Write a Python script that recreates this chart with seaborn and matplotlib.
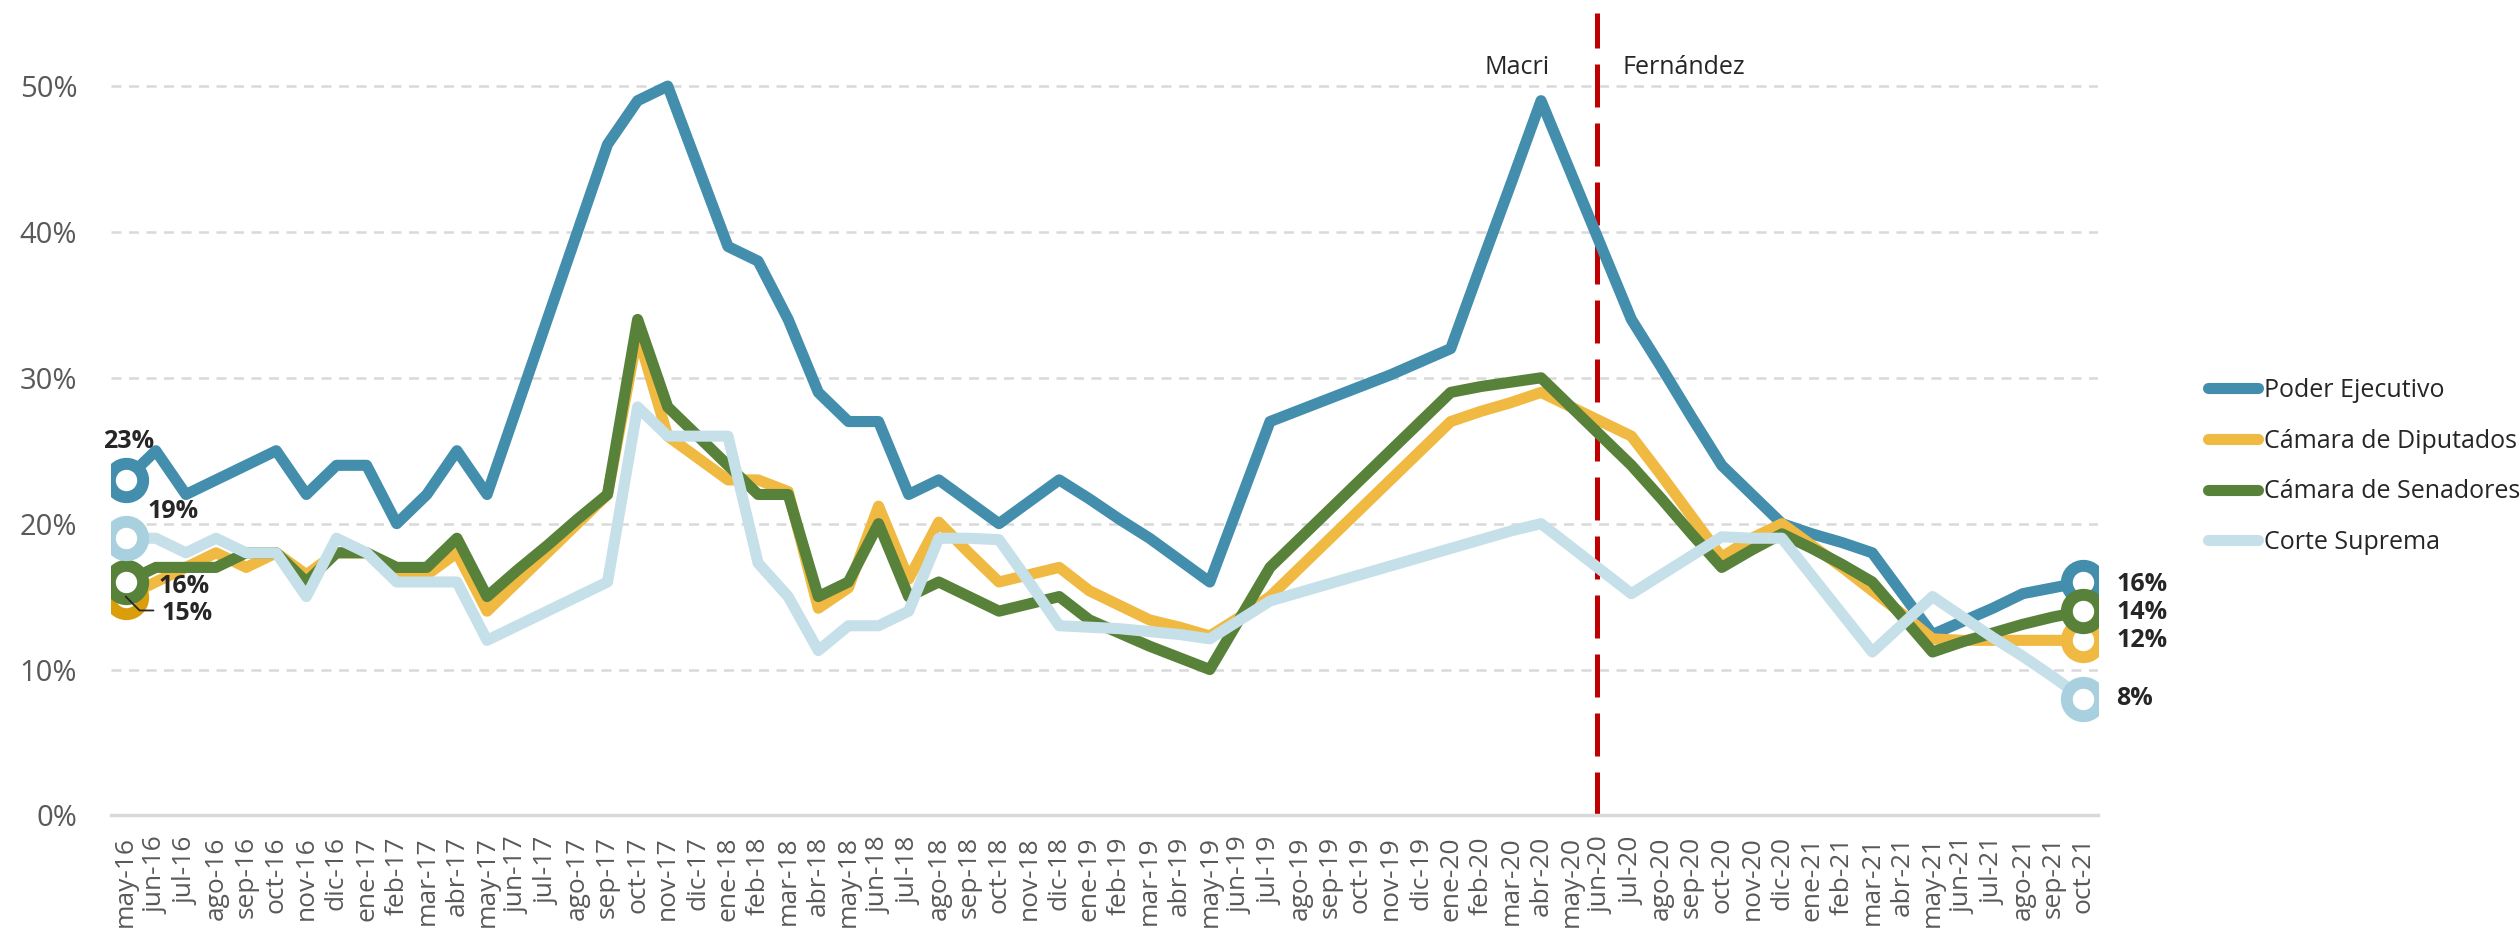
import numpy as np
import pandas as pd
import matplotlib
matplotlib.use('Agg')

import matplotlib.pyplot as plt
from matplotlib.lines import Line2D
import seaborn as sns

# -------------------------
# Data
# -------------------------

meses_abr = ['ene', 'feb', 'mar', 'abr', 'may', 'jun',
             'jul', 'ago', 'sep', 'oct', 'nov', 'dic']
meses = [f"{m}-{a}" for a in range(16, 22) for m in meses_abr]
meses = meses[meses.index('may-16'):meses.index('oct-21') + 1]

poder_ejecutivo = [23, 25, 22, 23, 24, 25, 22, 24, 24, 20, 22, 25, 22, 28, 34, 40,
                   46, 49, 50, 44.5, 39, 38, 34, 29, 27, 27, 22, 23, 21.5, 20, 21.5, 23,
                   21.7, 20.3, 19, 17.5, 16, 21.5, 27, 27.8, 28.6, 29.4, 30.2, 31.1, 32, 37.7,
                   43.3, 49, 44, 39, 34, 30.7, 27.3, 24, 22, 20, 19.3, 18.7, 18, 15.2, 12.4, 13.3,
                   14.2, 15.2, 15.6, 16]

camara_diputados = [15, 16, 17, 18, 17, 18, 16.5, 18, 18, 16.5, 16.5, 18, 14, 16, 18, 20,
                    22, 33, 26, 24.5, 23, 23, 22.2, 14.2, 15.6, 21.2, 16.2, 20.1, 18, 16, 16.5, 17,
                    15.4, 14.4, 13.4, 12.9, 12.3, 13.6, 15, 17, 19, 21, 23, 25, 27, 27.7,
                    28.3, 29, 28, 27, 26, 23.3, 20.5, 17.7, 19, 20, 18.5, 17, 15.4, 13.8, 12.1, 12,
                    12, 12, 12, 12]

camara_senadores = [16, 17, 17, 17, 18, 18, 16, 18, 18, 17, 17, 19, 15, 16.8, 18.5, 20.3,
                    22, 34, 28, 26, 24, 22, 22, 15, 16, 20, 15, 16, 15, 14, 14.5, 15,
                    13.4, 12.5, 11.6, 10.8, 10, 13.5, 17, 19, 21, 23, 25, 27, 29, 29.4,
                    29.7, 30, 28, 26, 24, 21.7, 19.3, 17, 18.2, 19.3, 18.3, 17.2, 16, 13.6, 11.2, 11.9,
                    12.5, 13.1, 13.6, 14]

corte_suprema = [19, 19, 18, 19, 18, 18, 15, 19, 18, 16, 16, 16, 12, 13, 14, 15,
                 16, 28, 26, 26, 26, 17.3, 15, 11.3, 13, 13, 14, 19, 19, 18.9, 16, 13,
                 12.9, 12.8, 12.6, 12.4, 12.1, 13.4, 14.7, 15.3, 15.9, 16.5, 17.1, 17.7, 18.3, 18.9,
                 19.5, 20, 18.4, 16.8, 15.2, 16.5, 17.8, 19.1, 19, 19, 16.4, 13.8, 11.2, 13.1, 15, 13.6,
                 12.2, 10.9, 9.5, 8]

series = ['Poder Ejecutivo', 'Cámara de Diputados', 'Cámara de Senadores', 'Corte Suprema']
valores = [poder_ejecutivo, camara_diputados, camara_senadores, corte_suprema]

colores = {'Poder Ejecutivo': '#428EAC',
           'Cámara de Diputados': '#F0BA42',
           'Cámara de Senadores': '#58813A',
           'Corte Suprema': '#C5E0E8'}
borde_inicio = {'Poder Ejecutivo': '#428EAC',
                'Cámara de Diputados': '#DA9E0C',
                'Cámara de Senadores': '#58813A',
                'Corte Suprema': '#A9D0DF'}
borde_fin = {'Poder Ejecutivo': '#428EAC',
             'Cámara de Diputados': '#F0BA42',
             'Cámara de Senadores': '#58813A',
             'Corte Suprema': '#A9D0DF'}

idx = np.arange(len(meses))
df = pd.DataFrame({
    'idx': np.tile(idx, len(series)),
    'valor': np.concatenate(valores),
    'serie': np.repeat(series, len(meses)),
})

# -------------------------
# Plot
# -------------------------

sns.set_style('white')
plt.rcParams['font.family'] = ['Open Sans', 'DejaVu Sans']

fig = plt.figure(figsize=(25.2, 9.4), dpi=100)
ax = fig.add_axes([0.0439, 0.1326, 0.8886 - 0.0439 - 0.056, 0.986 - 0.1326])

sns.lineplot(data=df, x='idx', y='valor', hue='serie', hue_order=series,
             palette=colores, linewidth=8, sort=False, legend=False, ax=ax)
for ln in ax.lines:
    ln.set_solid_joinstyle('round')
    ln.set_solid_capstyle('round')

# open circle markers at start and end
for s, v in zip(series, valores):
    ax.plot(idx[0], v[0], 'o', ms=24, mew=8.6, mfc='white',
            mec=borde_inicio[s], zorder=5)
for s, v in zip(series, valores):
    ax.plot(idx[-1], v[-1], 'o', ms=24, mew=8.6, mfc='white',
            mec=borde_fin[s], zorder=5)

# labels at the start
lab_kw = dict(textcoords='offset points', fontsize=18, fontweight='bold',
              color='#262626', va='center', zorder=6)
ax.annotate(f"{poder_ejecutivo[0]:.0f}%", (idx[0], poder_ejecutivo[0]),
            xytext=(2, 28), ha='center', **lab_kw)
ax.annotate(f"{corte_suprema[0]:.0f}%", (idx[0], corte_suprema[0]),
            xytext=(34, 19), ha='center', **lab_kw)
ax.annotate(f"{camara_senadores[0]:.0f}%", (idx[0], camara_senadores[0]),
            xytext=(42, -3), ha='center', **lab_kw)
ax.annotate(f"{camara_diputados[0]:.0f}%", (idx[0], camara_diputados[0]),
            xytext=(44, -12), ha='center', **lab_kw)
ax.annotate('', (idx[0], camara_diputados[0]), xytext=(20, -10),
            textcoords='offset points',
            arrowprops=dict(arrowstyle='-', color='#262626', lw=1.3,
                            connectionstyle='angle,angleA=0,angleB=-45,rad=0',
                            shrinkA=0, shrinkB=0), zorder=6)

# labels at the end
for v, dy in zip([poder_ejecutivo, camara_senadores, camara_diputados, corte_suprema],
                 [-2, -1, 0, 0]):
    ax.annotate(f"{v[-1]:.0f}%", (idx[-1], v[-1]), xytext=(24, dy),
                ha='left', **lab_kw)

# government change
ax.axvline(48.86, color='#C00000', lw=3.6, dashes=(8.6, 3.2), zorder=1)
ax.text(47.3, 51.3, 'Macri', ha='right', va='center', fontsize=18, color='#262626')
ax.text(49.7, 51.3, 'Fernández', ha='left', va='center', fontsize=18, color='#262626')

# axes
ax.set_xlim(-0.5, len(meses) - 0.5)
ax.set_ylim(0, 55)
ax.set_yticks(np.arange(0, 51, 10))
ax.set_yticklabels([f"{t}%" for t in range(0, 51, 10)])
ax.yaxis.grid(True, color='#D9D9D9', lw=1.8, dashes=(4, 3))
ax.xaxis.grid(False)
ax.set_axisbelow(True)
ax.set_xticks(idx)
ax.set_xticklabels(meses, rotation=90)
ax.set_xticks(np.arange(-0.5, len(meses), 1), minor=True)
ax.tick_params(axis='x', which='major', length=0, pad=15, labelsize=19,
               labelcolor='#595959')
ax.tick_params(axis='x', which='minor', length=9, width=1.8, color='#D9D9D9',
               direction='out')
ax.tick_params(axis='y', length=0, pad=24, labelsize=21, labelcolor='#595959')
ax.set_xlabel('')
ax.set_ylabel('')
for side in ['left', 'right', 'top']:
    ax.spines[side].set_visible(False)
ax.spines['bottom'].set_color('#D9D9D9')
ax.spines['bottom'].set_linewidth(2.5)

# legend
handles = [Line2D([0], [0], color=colores[s], lw=8, solid_capstyle='round')
           for s in series]
fig.legend(handles, series, loc='center left', bbox_to_anchor=(0.876, 0.5037),
           frameon=False, fontsize=18, handlelength=2.0, handletextpad=0.25,
           labelspacing=1.03, borderpad=0, borderaxespad=0)

plt.savefig('out.png', dpi=100)
plt.close()
